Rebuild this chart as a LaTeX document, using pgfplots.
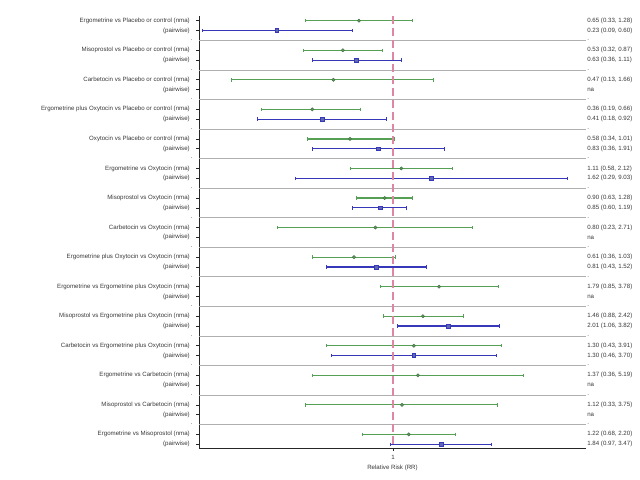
\documentclass[border=0pt]{standalone}
\usepackage{fontspec}
\setmainfont{Liberation Sans}
\usepackage{pgfplots}
\pgfplotsset{compat=1.18}
\definecolor{cigreen}{RGB}{85,160,85}
\definecolor{ptgreen}{RGB}{105,145,105}
\definecolor{ptgreenedge}{RGB}{60,120,60}
\definecolor{ciblue}{RGB}{55,55,185}
\definecolor{ptblue}{RGB}{95,105,175}
\definecolor{refpink}{RGB}{222,135,165}
\definecolor{sepgray}{RGB}{175,175,175}
\definecolor{txtgray}{RGB}{55,55,55}
\newcommand{\tl}{\fontsize{4.6}{5.2}\selectfont}
\begin{document}
\begin{tikzpicture}
\begin{axis}[
  name=ax,
  scale only axis,
  width=290.25pt, height=324pt,
  xmode=log,
  xmin=0.0859, xmax=11.48,
  ymin=-0.48, ymax=43.38,
  y dir=reverse,
  axis x line*=bottom,
  axis y line*=left,
  axis line style={black!85, line width=0.7pt},
  tick align=outside,
  major tick length=2.2pt,
  tick style={black!85, line width=0.5pt},
  xtick={1}, xticklabels={1},
  xlabel={Relative Risk (RR)},
  xlabel style={font=\tl, text=txtgray, yshift=3pt},
  ytick={0,1,3,4,6,7,9,10,12,13,15,16,18,19,21,22,24,25,27,28,30,31,33,34,36,37,39,40,42,43},
  yticklabels={
    {Ergometrine vs Placebo or control (nma)\hspace{2pt}},{(pairwise)},
    {Misoprostol vs Placebo or control (nma)\hspace{2pt}},{(pairwise)},
    {Carbetocin  vs Placebo or control (nma)\hspace{2pt}},{(pairwise)},
    {Ergometrine plus Oxytocin vs Placebo or control (nma)\hspace{2pt}},{(pairwise)},
    {Oxytocin vs Placebo or control (nma)\hspace{2pt}},{(pairwise)},
    {Ergometrine vs Oxytocin (nma)\hspace{2pt}},{(pairwise)},
    {Misoprostol vs Oxytocin (nma)\hspace{2pt}},{(pairwise)},
    {Carbetocin vs Oxytocin (nma)\hspace{2pt}},{(pairwise)},
    {Ergometrine plus Oxytocin vs Oxytocin (nma)\hspace{2pt}},{(pairwise)},
    {Ergometrine vs Ergometrine plus Oxytocin (nma)\hspace{2pt}},{(pairwise)},
    {Misoprostol vs Ergometrine plus Oxytocin (nma)\hspace{2pt}},{(pairwise)},
    {Carbetocin vs Ergometrine plus Oxytocin (nma)\hspace{2pt}},{(pairwise)},
    {Ergometrine vs Carbetocin (nma)\hspace{2pt}},{(pairwise)},
    {Misoprostol vs Carbetocin (nma)\hspace{2pt}},{(pairwise)},
    {Ergometrine vs Misoprostol (nma)\hspace{2pt}},{(pairwise)}},
  extra y ticks={2,5,8,11,14,17,20,23,26,29,32,35,38,41},
  extra y tick labels={.,.,.,.,.,.,.,.,.,.,.,.,.,.},
  extra y tick style={grid=major, major grid style={sepgray, line width=0.6pt}, major tick length=0pt},
  ticklabel style={font=\tl, text=txtgray},
  yticklabel style={xshift=-1.2pt},
  clip=false,
]
% NMA confidence intervals
\addplot[cigreen, line width=0.9pt, mark=|, mark size=1.3pt, mark options={solid, line width=0.5pt}, unbounded coords=jump] coordinates {
 (0.33,0) (1.28,0) (nan,nan)
 (0.32,3) (0.87,3) (nan,nan)
 (0.13,6) (1.66,6) (nan,nan)
 (0.19,9) (0.66,9) (nan,nan)
 (0.34,12) (1.01,12) (nan,nan)
 (0.58,15) (2.12,15) (nan,nan)
 (0.63,18) (1.28,18) (nan,nan)
 (0.23,21) (2.71,21) (nan,nan)
 (0.36,24) (1.03,24) (nan,nan)
 (0.85,27) (3.78,27) (nan,nan)
 (0.88,30) (2.42,30) (nan,nan)
 (0.43,33) (3.91,33) (nan,nan)
 (0.36,36) (5.19,36) (nan,nan)
 (0.33,39) (3.75,39) (nan,nan)
 (0.68,42) (2.20,42)
};
% pairwise confidence intervals
\addplot[ciblue, line width=0.9pt, mark=|, mark size=1.3pt, mark options={solid, line width=0.5pt}, unbounded coords=jump] coordinates {
 (0.09,1) (0.60,1) (nan,nan)
 (0.36,4) (1.11,4) (nan,nan)
 (0.18,10) (0.92,10) (nan,nan)
 (0.36,13) (1.91,13) (nan,nan)
 (0.29,16) (9.03,16) (nan,nan)
 (0.60,19) (1.19,19) (nan,nan)
 (0.43,25) (1.52,25) (nan,nan)
 (1.06,31) (3.82,31) (nan,nan)
 (0.46,34) (3.70,34) (nan,nan)
 (0.97,43) (3.47,43)
};
% reference line at RR = 1
\addplot[refpink, line width=1.5pt, dash pattern=on 6pt off 3pt] coordinates {(1,-0.48) (1,43.38)};
% NMA point estimates
\addplot[only marks, mark=*, mark size=1.2pt, mark options={fill=ptgreen, draw=ptgreenedge, line width=0.4pt}] coordinates {
 (0.65,0) (0.53,3) (0.47,6) (0.36,9) (0.58,12) (1.11,15) (0.90,18) (0.80,21)
 (0.61,24) (1.79,27) (1.46,30) (1.30,33) (1.37,36) (1.12,39) (1.22,42)
};
% pairwise point estimates
\addplot[only marks, mark=square*, mark size=1.4pt, mark options={fill=ptblue, draw=ciblue, line width=0.4pt}] coordinates {
 (0.23,1) (0.63,4) (0.41,10) (0.83,13) (1.62,16) (0.85,19) (0.81,25) (2.01,31) (1.30,34) (1.84,43)
};
\end{axis}
\begin{axis}[
  scale only axis,
  width=290.25pt, height=324pt,
  xmin=0, xmax=1,
  ymin=-0.48, ymax=43.38,
  y dir=reverse,
  axis x line=none,
  axis y line*=right,
  y axis line style={draw=none},
  major tick length=0pt,
  ytick style={draw=none},
  ytick={0,1,2,3,4,5,6,7,8,9,10,11,12,13,14,15,16,17,18,19,20,21,22,23,24,25,26,27,28,29,30,31,32,33,34,35,36,37,38,39,40,41,42,43},
  yticklabels={
    {0.65 (0.33, 1.28)},{0.23 (0.09, 0.60)},{.},
    {0.53 (0.32, 0.87)},{0.63 (0.36, 1.11)},{.},
    {0.47 (0.13, 1.66)},{na},{.},
    {0.36 (0.19, 0.66)},{0.41 (0.18, 0.92)},{.},
    {0.58 (0.34, 1.01)},{0.83 (0.36, 1.91)},{.},
    {1.11 (0.58, 2.12)},{1.62 (0.29, 9.03)},{.},
    {0.90 (0.63, 1.28)},{0.85 (0.60, 1.19)},{.},
    {0.80 (0.23, 2.71)},{na},{.},
    {0.61 (0.36, 1.03)},{0.81 (0.43, 1.52)},{.},
    {1.79 (0.85, 3.78)},{na},{.},
    {1.46 (0.88, 2.42)},{2.01 (1.06, 3.82)},{.},
    {1.30 (0.43, 3.91)},{1.30 (0.46, 3.70)},{.},
    {1.37 (0.36, 5.19)},{na},{.},
    {1.12 (0.33, 3.75)},{na},{.},
    {1.22 (0.68, 2.20)},{1.84 (0.97, 3.47)}},
  yticklabel style={font=\tl, text=txtgray, inner sep=0.8pt},
]
\end{axis}
\path (ax.south west) +(-149.25pt,-24pt) (ax.north east) +(40.5pt,12pt);
\end{tikzpicture}
\end{document}
